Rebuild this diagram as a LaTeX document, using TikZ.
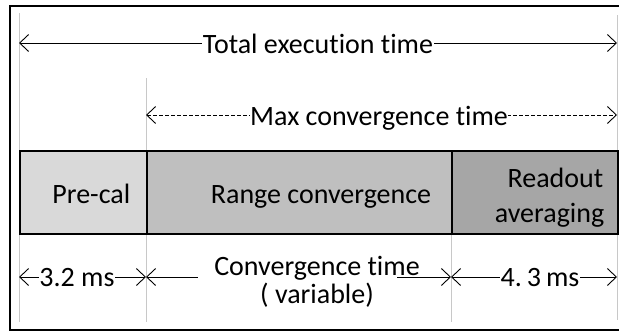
\documentclass[tikz,border=0pt]{standalone}
\usepackage{fontspec}
\setmainfont{Carlito}[Ligatures=NoCommon]
\usetikzlibrary{arrows.meta}
\definecolor{cpre}{HTML}{D9D9D9}
\definecolor{crange}{HTML}{BFBFBF}
\definecolor{cread}{HTML}{A6A6A6}
\definecolor{cguide}{HTML}{C8C8C8}
\tikzset{
  guide/.style={draw=cguide, line width=1pt},
  frameline/.style={draw=black, line width=2.2pt},
  segbox/.style={draw=black, line width=1.9pt},
  dimline/.style={draw=black, line width=0.9pt},
  tip/.tip={Straight Barb[length=9pt,width=17pt,line width=0.9pt]},
  lbl/.style={font=\fontsize{28}{33}\selectfont, inner sep=0.6pt},
  wlbl/.style={lbl, fill=white},
}
\begin{document}
\begin{tikzpicture}[x=1pt,y=-1pt]
\useasboundingbox (0,0) rectangle (619,332);
\fill[white] (0,0) rectangle (619,332);
% frame
\draw[frameline] (10,6) -- (620,6);
\draw[frameline] (10,5) -- (10,331);
\draw[frameline] (9,330) -- (620,330);
% guides
\coordinate (gL1) at (19,13);   \coordinate (gL2) at (19,322);
\coordinate (gR1) at (617,15);  \coordinate (gR2) at (617,320);
\coordinate (gA1) at (146,78);  \coordinate (gA2) at (146,322);
\coordinate (gB1) at (451,233); \coordinate (gB2) at (451,322);
\draw[guide] (gL1) -- (gL2);
\draw[guide] (gR1) -- (gR2);
\draw[guide] (gA1) -- (gA2);
\draw[guide] (gB1) -- (gB2);
% total execution time
\coordinate (t1) at (19,43); \coordinate (t2) at (617,43);
\draw[dimline, tip-tip] (t1) -- (t2);
\node[wlbl, anchor=base] (tot) at (318,53) {Total execution time};
% max convergence time
\coordinate (m1) at (146,115); \coordinate (m2) at (617,115);
\draw[dimline, dash pattern=on 4pt off 2pt, tip-tip] (m1) -- (m2);
\node[wlbl, anchor=base] (maxc) at (379,125) {Max convergence time};
% boxes
\node[segbox, fill=cpre, minimum width=127pt, minimum height=83pt, anchor=north west, inner sep=0pt] (pc) at (19,150) {};
\node[segbox, fill=crange, minimum width=305pt, minimum height=83pt, anchor=north west, inner sep=0pt] (rc) at (146,150) {};
\node[segbox, fill=cread, minimum width=166pt, minimum height=83pt, anchor=north west, inner sep=0pt] (ra) at (451,150) {};
\node[lbl, anchor=base east] (pctext) at (131,203) {Pre-cal};
\node[lbl, anchor=base] (rctext) at (321,203) {Range convergence};
\node[lbl, anchor=base east] (ratext1) at (604,187) {Readout};
\node[lbl, anchor=base east] (ratext2) at (605,222) {averaging};
% bottom dimensions
\coordinate (b0) at (19,277); \coordinate (b1) at (146,277);
\coordinate (b1e) at (198,277); \coordinate (b2s) at (397,277);
\coordinate (b2) at (451,277); \coordinate (b3) at (617,277);
\draw[dimline, tip-tip] (b0) -- (b1);
\node[wlbl, anchor=base] (d1) at (77,286) {3.2 ms};
\draw[dimline, tip-] (b1) -- (b1e);
\draw[dimline, -tip] (b2s) -- (b2);
\node[lbl, anchor=base] (d2a) at (317,275) {Convergence time};
\node[lbl, anchor=base] (d2b) at (317,303) {( variable)};
\draw[dimline, tip-tip] (b2) -- (b3);
\node[wlbl, anchor=base] (d3) at (540,286) {4.\hspace{5pt}3\hspace{5pt}ms};
\end{tikzpicture}
\end{document}
